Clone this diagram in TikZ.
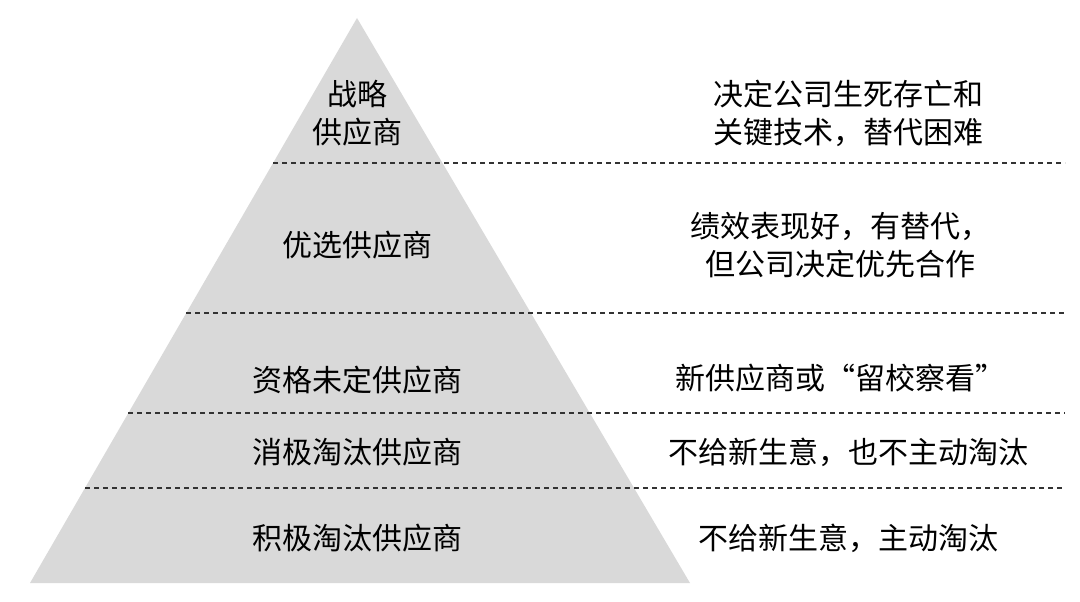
\documentclass[tikz,border=0pt]{standalone}
\usepackage{fontspec}
\setmainfont{Noto Sans CJK SC}
\begin{document}
\begin{tikzpicture}[x=1pt,y=-1pt,
  lbl/.style={font=\fontsize{30}{38}\selectfont,align=center,text=black,inner sep=0pt},
  sep/.style={line width=1.5pt,dash pattern=on 5pt off 4pt,black!80}]
\useasboundingbox (0,0) rectangle (1080,602);
\fill[gray!30] (357,18) -- (690,583) -- (30,583) -- cycle;
\coordinate (a1) at (273,163); \coordinate (b1) at (1065,163);
\coordinate (a2) at (186,313); \coordinate (b2) at (1065,313);
\coordinate (a3) at (128,413); \coordinate (b3) at (1065,413);
\coordinate (a4) at (85,488); \coordinate (b4) at (1065,488);
\draw[sep] (a1) -- (b1);
\draw[sep] (a2) -- (b2);
\draw[sep] (a3) -- (b3);
\draw[sep] (a4) -- (b4);
\node[lbl] (l1) at (357,113) {战略\\供应商};
\node[lbl] (l2) at (357,245) {优选供应商};
\node[lbl] (l3) at (357,380) {资格未定供应商};
\node[lbl] (l4) at (357,452) {消极淘汰供应商};
\node[lbl] (l5) at (357,538) {积极淘汰供应商};
\node[lbl] (r1) at (848,113) {决定公司生死存亡和\\关键技术，替代困难};
\node[lbl] (r2) at (840,245) {绩效表现好，有替代，\\但公司决定优先合作};
\node[lbl] (r3) at (840,378) {新供应商或“留校察看”};
\node[lbl] (r4) at (848,452) {不给新生意，也不主动淘汰};
\node[lbl] (r5) at (848,538) {不给新生意，主动淘汰};
\end{tikzpicture}
\end{document}
